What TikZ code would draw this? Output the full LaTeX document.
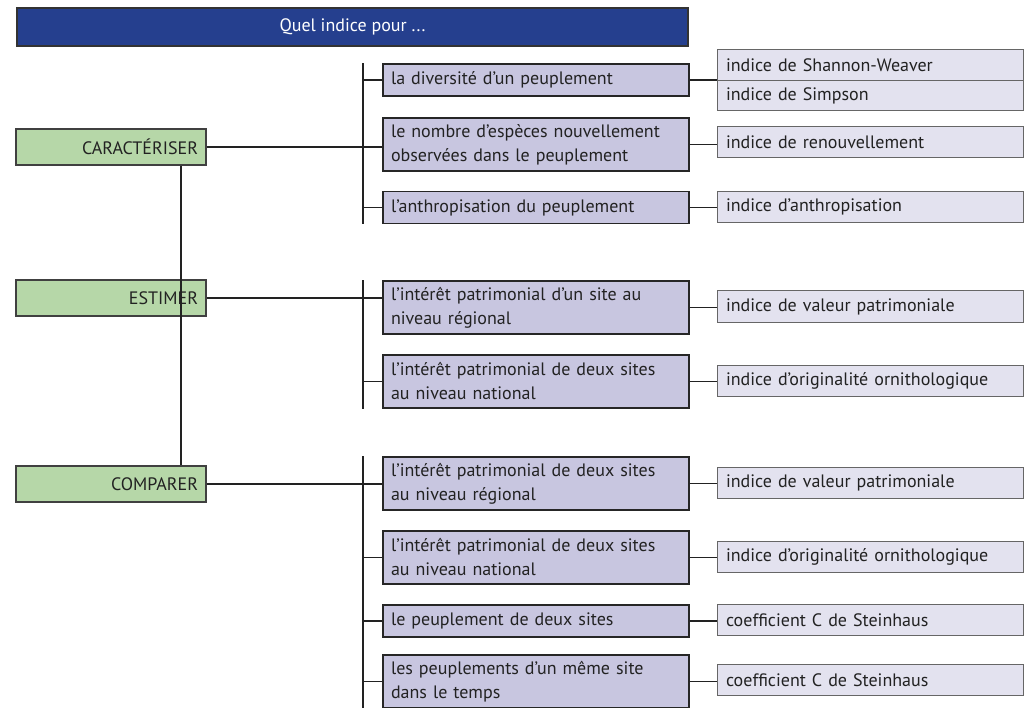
\documentclass[tikz,border=0pt]{standalone}
\usepackage{fontspec}
\setmainfont{PT Sans}
\usetikzlibrary{positioning}

\definecolor{bleutitre}{HTML}{253F8E}
\definecolor{vert}{HTML}{B6D7A8}
\definecolor{mauve}{HTML}{C8C6E0}
\definecolor{mauveclair}{HTML}{E3E2EF}
\definecolor{encre}{HTML}{222222}

\tikzset{
  lien/.style={draw=encre, line width=1.4pt},
  accolade/.style={draw=encre, line width=2pt},
  titre/.style={draw=black!80, line width=1.5pt, fill=bleutitre, text=white,
    minimum width=671, minimum height=38, font=\fontsize{18}{21}\selectfont},
  verbe/.style={draw=black!75, line width=1.3pt, fill=vert, text=encre,
    minimum width=190, minimum height=36, inner xsep=8pt, text width=174,
    align=right, font=\fontsize{18}{21}\selectfont},
  quoi/.style={draw=black!85, line width=1.6pt, fill=mauve, text=encre,
    minimum width=306, minimum height=32, inner xsep=8pt, text width=290,
    align=left, font=\fontsize{18}{24}\selectfont},
  deux/.style={minimum height=53},
  indice/.style={draw=black!60, line width=1pt, fill=mauveclair, text=encre,
    minimum width=306, minimum height=31, inner xsep=9pt, text width=288,
    align=left, font=\fontsize{18}{21}\selectfont}
}

\begin{document}
\begin{tikzpicture}[x=1pt, y=-1pt]
  \useasboundingbox (0,0) rectangle (1024,708);
  \coordinate (tronc) at (181,0);  % tronc vertical à gauche
  \coordinate (accol) at (363,0);  % barres verticales des groupes
  \coordinate (bas) at (0,708);    % bord inférieur

  % titre
  \node[titre] (titre) at (352.5,27) {Quel indice pour ...};

  % verbes
  \node[verbe] (car)  at (111,147) {CARACTÉRISER};
  \node[verbe] (est)  at (111,298) {ESTIMER};
  \node[verbe] (comp) at (111,484) {COMPARER};
  \draw[lien] (car.south -| tronc) -- (comp.north -| tronc);

  % ---------------- CARACTÉRISER ----------------
  \node[quoi] (c1) at (536,80) {la diversité d’un peuplement};
  \node[quoi, deux] (c2) at (536,144.5) {le nombre d’espèces nouvellement\\observées dans le peuplement};
  \node[quoi] (c3) at (536,207.5) {l’anthropisation du peuplement};

  \node[indice, minimum height=31] (shannon) at (870,65.5) {indice de Shannon-Weaver};
  \node[indice, minimum height=30] (simpson) at (870,96) {indice de Simpson};
  \node[indice] (renouv) at (870,142.5) {indice de renouvellement};
  \node[indice] (anthro) at (870,207) {indice d’anthropisation};

  % ---------------- ESTIMER ----------------
  \node[quoi, deux] (e1) at (536,307.5) {l’intérêt patrimonial d’un site au\\niveau régional};
  \node[quoi, deux] (e2) at (536,381.5) {l’intérêt patrimonial de deux sites\\au niveau national};

  \node[indice] (valeurA) at (870,306.5) {indice de valeur patrimoniale};
  \node[indice] (origA)   at (870,381) {indice d’originalité ornithologique};

  % ---------------- COMPARER ----------------
  \node[quoi, deux] (k1) at (536,483.5) {l’intérêt patrimonial de deux sites\\au niveau régional};
  \node[quoi, deux] (k2) at (536,557.5) {l’intérêt patrimonial de deux sites\\au niveau national};
  \node[quoi] (k3) at (536,621) {le peuplement de deux sites};
  \node[quoi, deux] (k4) at (536,681.5) {les peuplements d’un même site\\dans le temps};

  \node[indice] (valeurB) at (870,483) {indice de valeur patrimoniale};
  \node[indice] (origB)   at (870,557) {indice d’originalité ornithologique};
  \node[indice] (steinA)  at (870,620) {coefficient C de Steinhaus};
  \node[indice] (steinB)  at (870,680) {coefficient C de Steinhaus};

  % barres verticales
  \draw[accolade] (c1.north west -| accol) -- (c3.south west -| accol);
  \draw[accolade] (e1.north west -| accol) -- (e2.south west -| accol);
  \draw[accolade] (k1.north west -| accol) -- (bas -| accol);

  % verbes vers les groupes
  \draw[lien] (car.east)  -- (car.east -| c2.west);
  \draw[lien] (est.east)  -- (est.east -| e1.west);
  \draw[lien] (comp.east) -- (comp.east -| k1.west);

  % petites attaches à gauche
  \foreach \n in {c1,c3,e2,k2,k3,k4}
    \draw[lien] (\n.west) -- (\n.west -| accol);

  % vers les indices
  \draw[lien] (c1.east) -- (c1.east -| simpson.west);
  \draw[lien] (c2.east) -- (c2.east -| renouv.west);
  \draw[lien] (c3.east) -- (c3.east -| anthro.west);
  \draw[lien] (e1.east) -- (e1.east -| valeurA.west);
  \draw[lien] (e2.east) -- (e2.east -| origA.west);
  \draw[lien] (k1.east) -- (k1.east -| valeurB.west);
  \draw[lien] (k2.east) -- (k2.east -| origB.west);
  \draw[lien] (k3.east) -- (k3.east -| steinA.west);
  \draw[lien] (k4.east) -- (k4.east -| steinB.west);
\end{tikzpicture}
\end{document}
